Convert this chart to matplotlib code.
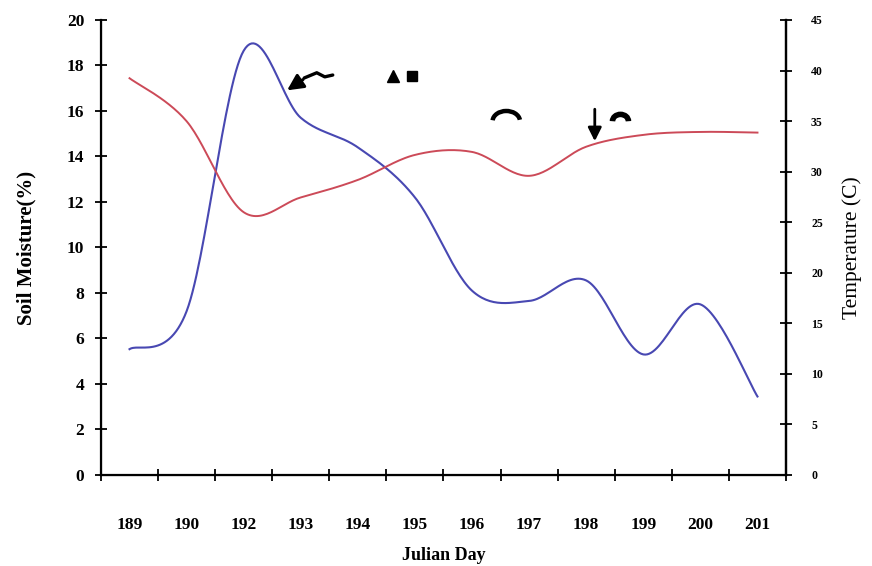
import numpy as np
import matplotlib
matplotlib.use("Agg")
import matplotlib.pyplot as plt
from matplotlib.patches import Arc

days = ["189", "190", "192", "193", "194", "195", "196", "197", "198", "199", "200", "201"]
blue_vals = [5.53, 7.2, 18.65, 15.7, 14.4, 12.2, 8.1, 7.65, 8.55, 5.3, 7.5, 3.45]
red_vals = [17.44, 15.55, 11.55, 12.2, 12.97, 14.07, 14.2, 13.15, 14.43, 14.95, 15.08, 15.05]
temp_ticks = [0, 5, 10, 15, 20, 25, 30, 35, 40, 45]


def smooth(xs, ys, n=30):
    # Excel-like smoothed line (Catmull-Rom via cubic Bezier)
    xs = np.asarray(xs, float)
    ys = np.asarray(ys, float)
    px = np.concatenate([[xs[0]], xs, [xs[-1]]])
    py = np.concatenate([[ys[0]], ys, [ys[-1]]])
    outx, outy = [], []
    t = np.linspace(0, 1, n)
    for i in range(1, len(px) - 2):
        x0, x1, x2, x3 = px[i - 1:i + 3]
        y0, y1, y2, y3 = py[i - 1:i + 3]
        c1x, c1y = x1 + (x2 - x0) / 6, y1 + (y2 - y0) / 6
        c2x, c2y = x2 - (x3 - x1) / 6, y2 - (y3 - y1) / 6
        bx = (1-t)**3*x1 + 3*(1-t)**2*t*c1x + 3*(1-t)*t**2*c2x + t**3*x2
        by = (1-t)**3*y1 + 3*(1-t)**2*t*c1y + 3*(1-t)*t**2*c2y + t**3*y2
        outx.extend(bx)
        outy.extend(by)
    return outx, outy


fig = plt.figure(figsize=(8.72, 5.66), dpi=100)
ax = fig.add_axes([0.1158, 0.1608, 0.7856, 0.8039])

x = np.arange(len(days))
bx, by = smooth(x, blue_vals)
rx, ry = smooth(x, red_vals)
ax.plot(bx, by, color="#4848b2", lw=1.5)
ax.plot(rx, ry, color="#cc4a58", lw=1.4)

ax.set_xlim(-0.5, len(days) - 0.5)
ax.set_ylim(0, 20)
ax.set_xticks(np.arange(-0.5, len(days), 1.0))
ax.set_xticklabels([])
ax.set_xticks(x, minor=True)
ax.set_xticklabels(days, minor=True, fontfamily="Liberation Serif",
                   fontweight="bold", fontsize=12.5)
ax.tick_params(axis="x", which="major", direction="inout", length=9, width=1.3)
ax.tick_params(axis="x", which="minor", length=0, pad=30)
ax.set_yticks(range(0, 21, 2))
ax.set_yticklabels([str(v) for v in range(0, 21, 2)], fontfamily="Liberation Serif",
                   fontweight="bold", fontsize=12.5)
ax.tick_params(axis="y", direction="inout", length=8, width=1.3, pad=8)
for s in ax.spines.values():
    s.set_linewidth(1.6)
ax.spines["top"].set_visible(False)

ax.set_xlabel("Julian Day", fontfamily="Liberation Serif", fontweight="bold",
              fontsize=13, labelpad=10)
ax.set_ylabel("Soil Moisture(%)", fontfamily="Liberation Serif", fontweight="bold",
              fontsize=15, labelpad=22)

ax2 = ax.twinx()
ax2.set_ylim(0, 45)
ax2.set_yticks(temp_ticks)
ax2.set_yticklabels([str(v) for v in temp_ticks], fontfamily="Liberation Serif",
                    fontweight="bold", fontsize=8.5)
ax2.tick_params(axis="y", direction="inout", length=8, width=1.3, pad=14)
ax2.spines["right"].set_linewidth(1.6)
ax2.spines["top"].set_visible(False)
ax2.set_ylabel("Temperature (C)", fontfamily="Liberation Serif", fontsize=15.5,
               labelpad=14)

# annotation marks
ax.annotate("", xy=(2.72, 16.84), xytext=(3.08, 17.45),
            arrowprops=dict(arrowstyle="-|>", color="black", lw=2.2,
                            mutation_scale=24))
ax.plot([3.06, 3.28, 3.42, 3.56], [17.45, 17.68, 17.5, 17.58], color="black",
        lw=2.4, solid_capstyle="round")
ax.plot([4.61], [17.55], marker="^", color="black", markersize=8)
ax.plot([4.94], [17.55], marker="s", color="black", markersize=7)
ax.add_patch(Arc((6.6, 15.55), 0.48, 0.9, theta1=15, theta2=170,
                 color="black", lw=3.2))
ax.annotate("", xy=(8.15, 14.55), xytext=(8.15, 16.2),
            arrowprops=dict(arrowstyle="-|>", color="black", lw=2.0,
                            mutation_scale=20))
ax.add_patch(Arc((8.6, 15.55), 0.28, 0.6, theta1=0, theta2=180,
                 color="black", lw=4))

fig.savefig("out.png", dpi=100)
